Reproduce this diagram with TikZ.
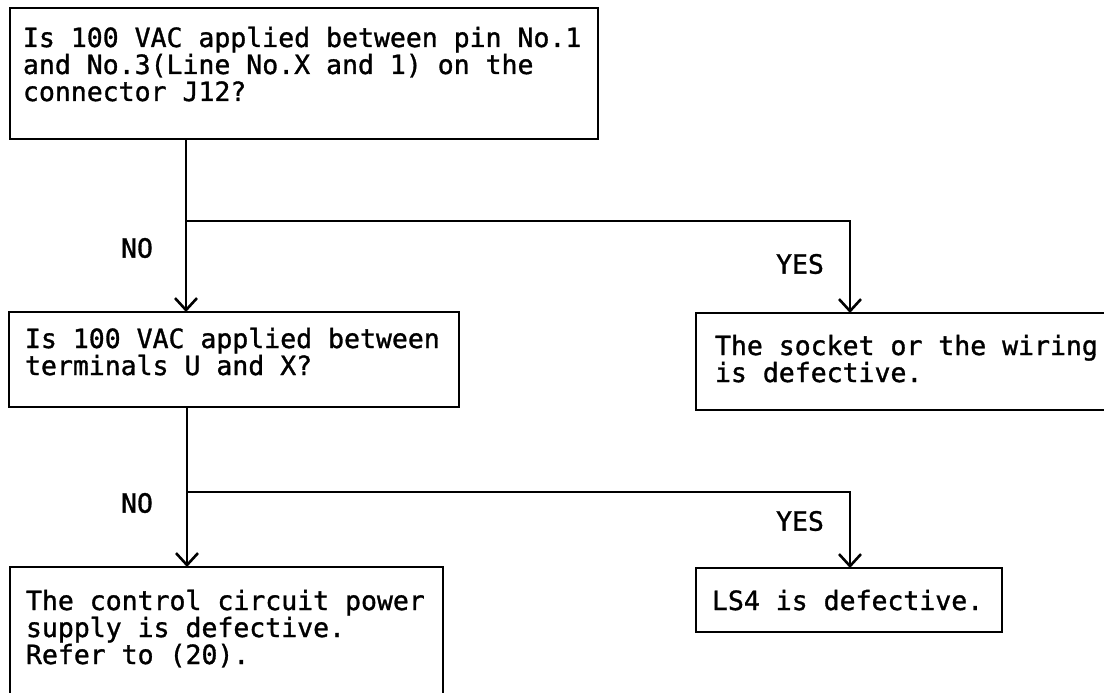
\documentclass[tikz,border=0pt]{standalone}
\usepackage{fontspec}
\usepackage{tikz}
\usetikzlibrary{arrows.meta}
\newfontfamily\chartfont[FakeBold=1.2]{DejaVu Sans Mono}
\newcommand\chartsize{\fontsize{26.5}{27}\selectfont}

\begin{document}
\begin{tikzpicture}[x=1pt, y=-1pt, line width=2.6pt,
	every node/.style={font=\chartfont\chartsize, inner sep=0pt, outer sep=0pt},
	% align=left shrinks spaces, put them back to one full letter
	box/.style={anchor=north west, align=left,
		execute at begin node={\spaceskip=0.6021em\xspaceskip=0.6021em\relax}},
	flow/.style={-{Straight Barb[length=12pt,width=22pt]}},]

\useasboundingbox (0,0) rectangle (1104,693);

\node [box, draw, inner xsep=13pt, text width=562pt, text height=39pt, text depth=92pt] (q1) at (10,8)
	{Is 100 VAC applied between pin No.1\\and No.3(Line No.X and 1) on the\\connector J12?};
\node [box, draw, inner xsep=16pt, text width=418pt, text height=36pt, text depth=59pt] (q2) at (9,312)
	{Is 100 VAC applied between\\terminals U and X?};
\node [box, inner xsep=19pt, text width=390pt, text height=42pt, text depth=55pt] (a1) at (696,313)
	{The socket or the wiring\\is defective.};
\node [box, inner xsep=16pt, text width=401pt, text height=43pt, text depth=140pt] (a2) at (10,567)
	{The control circuit power\\supply is defective.\\Refer to (20).};
\node [box, draw, inner xsep=16pt, text width=274pt, text height=42pt, text depth=22pt] (a3) at (696,568)
	{LS4 is defective.};

% open sides run off the sheet
\coordinate (edge) at (1104,0);
\coordinate (floor) at (0,693);
\draw (a1.north west -| edge) -- (a1.north west) -- (a1.south west) -- (a1.south west -| edge);
\draw (a2.south west |- floor) -- (a2.north west) -- (a2.north east) -- (a2.south east |- floor);

\coordinate (j1) at (186,221);
\coordinate (y1) at (850,221);
\coordinate (j2) at (187,492);
\coordinate (y2) at (850,492);

\draw [flow] (q1.south -| j1) -- (q2.north -| j1);
\draw [flow] (j1) -- (y1) -- (a1.north -| y1);
\draw [flow] (q2.south -| j2) -- (a2.north -| j2);
\draw [flow] (j2) -- (y2) -- (a3.north -| y2);

\node (no1) at (137,248) {NO};
\node (yes1) at (800,264) {YES};
\node (no2) at (137,503) {NO};
\node (yes2) at (800,521) {YES};

\end{tikzpicture}
\end{document}
